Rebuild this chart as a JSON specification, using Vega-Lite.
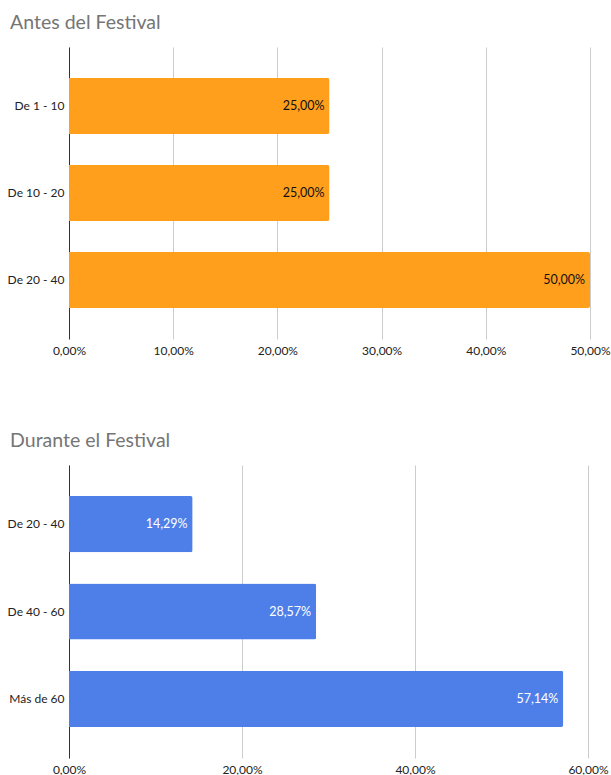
{
  "$schema": "https://vega.github.io/schema/vega-lite/v6.json",
  "padding": {"left": 7, "top": 12, "right": 0, "bottom": 0},
  "background": "white",
  "spacing": 74,
  "config": {
    "view": {"stroke": null},
    "font": "Lato",
    "locale": {"number": {"decimal": ",", "thousands": ".", "grouping": [3], "currency": ["", " €"]}},
    "title": {"font": "Lato", "fontSize": 19.5, "fontWeight": "normal", "color": "#757575", "anchor": "start", "frame": "bounds", "offset": 14, "dx": 3},
    "axis": {"labelFont": "Lato", "labelFontSize": 12, "labelColor": "#222222", "title": null}
  },
  "vconcat": [
    {
      "title": "Antes del Festival",
      "width": 521,
      "height": 292,
      "data": {"values": [
        {"rango": "De 1 - 10", "pct": 0.25},
        {"rango": "De 10 - 20", "pct": 0.25},
        {"rango": "De 20 - 40", "pct": 0.5}
      ]},
      "encoding": {
        "y": {"field": "rango", "type": "nominal", "sort": null,
              "scale": {"paddingInner": 0.356, "paddingOuter": 0.356},
              "axis": {"domainColor": "#333333", "ticks": false, "labelPadding": 5, "grid": false}},
        "x": {"field": "pct", "type": "quantitative",
              "scale": {"domain": [0, 0.5], "nice": false},
              "axis": {"values": [0, 0.1, 0.2, 0.3, 0.4, 0.5], "format": ".2%", "domain": false, "ticks": false,
                       "grid": true, "gridColor": "#cccccc", "labelPadding": 6, "labelFlush": false}}
      },
      "layer": [
        {"mark": {"type": "bar", "color": "#FF9F1C", "cornerRadiusEnd": 2}},
        {"mark": {"type": "text", "align": "right", "dx": -5, "fontSize": 12.5, "color": "#111111"},
         "encoding": {"text": {"field": "pct", "type": "quantitative", "format": ".2%"}}}
      ]
    },
    {
      "title": "Durante el Festival",
      "width": 519,
      "height": 293,
      "data": {"values": [
        {"rango": "De 20 - 40", "pct": 0.1429},
        {"rango": "De 40 - 60", "pct": 0.2857},
        {"rango": "Más de 60", "pct": 0.5714}
      ]},
      "encoding": {
        "y": {"field": "rango", "type": "nominal", "sort": null,
              "scale": {"paddingInner": 0.356, "paddingOuter": 0.356},
              "axis": {"domainColor": "#333333", "ticks": false, "labelPadding": 5, "grid": false}},
        "x": {"field": "pct", "type": "quantitative",
              "scale": {"domain": [0, 0.6], "nice": false},
              "axis": {"values": [0, 0.2, 0.4, 0.6], "format": ".2%", "domain": false, "ticks": false,
                       "grid": true, "gridColor": "#cccccc", "labelPadding": 6, "labelFlush": false}}
      },
      "layer": [
        {"mark": {"type": "bar", "color": "#4E7FE9", "cornerRadiusEnd": 2}},
        {"mark": {"type": "text", "align": "right", "dx": -5, "fontSize": 12.5, "color": "#ffffff"},
         "encoding": {"text": {"field": "pct", "type": "quantitative", "format": ".2%"}}}
      ]
    }
  ]
}
